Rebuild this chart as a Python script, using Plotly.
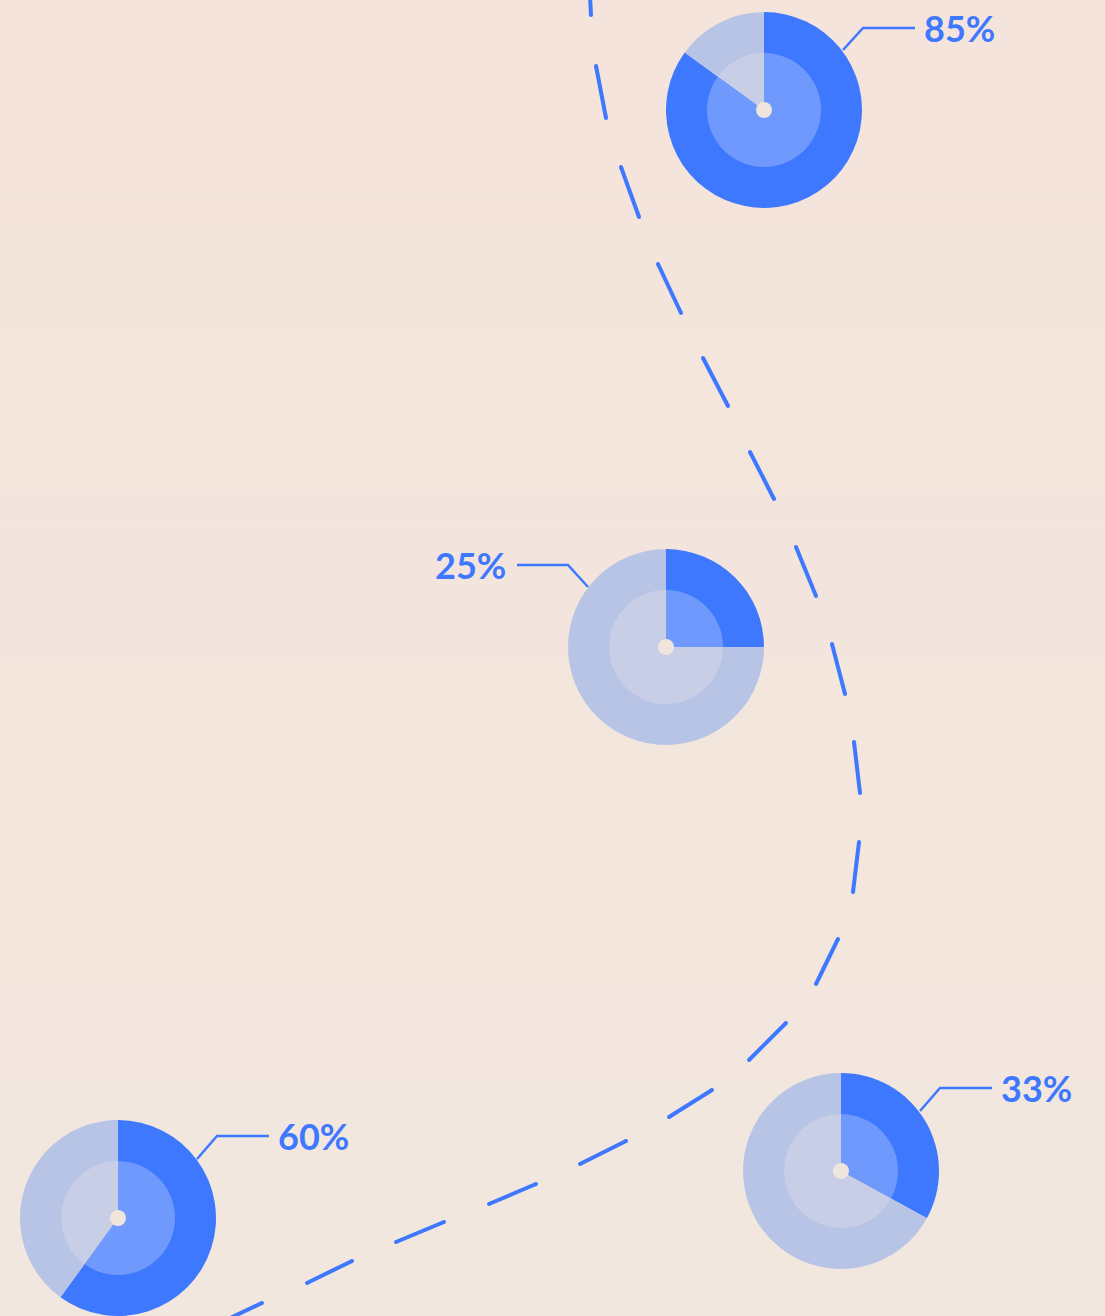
import plotly.graph_objects as go

# ---- data ----
pct_labels = ["85%", "25%", "33%", "60%"]
pct_values = [85, 25, 33, 60]
slice_names = ["Share", "Rest"]

# decorative dashed route: start/end points of each dash (pixel coordinates of the canvas)
dash_start_x = [590, 596, 621, 658, 703, 750, 796, 832, 854, 859, 838, 786, 712, 626, 536, 444, 352, 262]
dash_start_y = [-4, 66, 167, 264, 358, 452, 547, 644, 742, 842, 939, 1023, 1090, 1141, 1184, 1222, 1261, 1303]
dash_end_x = [591, 606, 639, 681, 728, 774, 816, 845, 860, 853, 816, 749, 669, 580, 489, 396, 307, 226]
dash_end_y = [15, 118, 217, 313, 406, 499, 596, 694, 793, 892, 984, 1060, 1117, 1164, 1204, 1242, 1283, 1320]

# ---- layout config ----
W, H = 1105, 1316
centers = [(764, 110), (666, 647), (841, 1171), (118, 1218)]
R_OUT, R_IN, R_DOT = 98, 57, 8
label_cfg = [
    (922, 28, "left", [(843, 50), (863, 28), (915, 28)]),
    (508, 565, "right", [(588, 587), (568, 565), (517, 565)]),
    (999, 1088, "left", [(920, 1111), (940, 1088), (992, 1088)]),
    (276, 1136, "left", [(197, 1159), (217, 1136), (269, 1136)]),
]

BLUE = "#3d78fe"
LIGHT = "#b8c4e6"
BLUE_IN = "#6f99fd"
LIGHT_IN = "#c8cee6"
BG_TOP = (245, 228, 220)
BG_BOT = (241, 231, 222)
DOT = "#efe5dc"

fig = go.Figure()

# dashed route as separate dash strokes
rx, ry = [], []
for x0, y0, x1, y1 in zip(dash_start_x, dash_start_y, dash_end_x, dash_end_y):
    rx += [x0, x1, None]
    ry += [y0, y1, None]
fig.add_trace(go.Scatter(
    x=rx, y=ry, mode="lines+markers",
    line=dict(color=BLUE, width=4),
    marker=dict(color=BLUE, size=4, line=dict(width=0)),
    hoverinfo="skip", showlegend=False, cliponaxis=True,
))

def dom(cx, cy, r):
    return dict(x=[(cx - r) / W, (cx + r) / W], y=[1 - (cy + r) / H, 1 - (cy - r) / H])

for (cx, cy), v in zip(centers, pct_values):
    vals = [v, 100 - v]
    fig.add_trace(go.Pie(
        values=vals, labels=slice_names, sort=False, direction="clockwise", rotation=0,
        marker=dict(colors=[BLUE, LIGHT], line=dict(width=0)),
        textinfo="none", hoverinfo="skip", domain=dom(cx, cy, R_OUT), showlegend=False,
    ))
    fig.add_trace(go.Pie(
        values=vals, labels=slice_names, sort=False, direction="clockwise", rotation=0,
        marker=dict(colors=[BLUE_IN, LIGHT_IN], line=dict(width=0)),
        textinfo="none", hoverinfo="skip", domain=dom(cx, cy, R_IN), showlegend=False,
    ))

shapes = []
annotations = []
# subtle vertical background gradient
NB = 40
for i in range(NB):
    t = i / (NB - 1)
    c = tuple(round(a + (b - a) * t) for a, b in zip(BG_TOP, BG_BOT))
    shapes.append(dict(type="rect", xref="paper", yref="paper", x0=0, x1=1,
                       y0=1 - (i + 1) / NB, y1=1 - i / NB,
                       fillcolor=f"rgb{c}", line=dict(width=0), layer="below"))
for (cx, cy) in centers:
    shapes.append(dict(type="circle", xref="x", yref="y", x0=cx - R_DOT, x1=cx + R_DOT,
                       y0=cy - R_DOT, y1=cy + R_DOT, fillcolor=DOT, line=dict(width=0),
                       layer="above"))
for txt, (tx, ty, anc, pts) in zip(pct_labels, label_cfg):
    path = "M " + " L ".join(f"{x},{y}" for x, y in pts)
    shapes.append(dict(type="path", xref="x", yref="y", path=path,
                       line=dict(color=BLUE, width=2.5), layer="above"))
    annotations.append(dict(x=tx, y=ty, xref="x", yref="y", text=f"<b>{txt}</b>",
                            showarrow=False, xanchor=anc, yanchor="middle",
                            font=dict(family="Lato", size=36, color=BLUE)))

fig.update_layout(
    width=W, height=H, margin=dict(l=0, r=0, t=0, b=0),
    paper_bgcolor="rgb(243,230,221)", plot_bgcolor="rgba(0,0,0,0)",
    xaxis=dict(range=[0, W], visible=False, fixedrange=True),
    yaxis=dict(range=[H, 0], visible=False, fixedrange=True),
    shapes=shapes, annotations=annotations,
)

fig.write_html("out.html")
